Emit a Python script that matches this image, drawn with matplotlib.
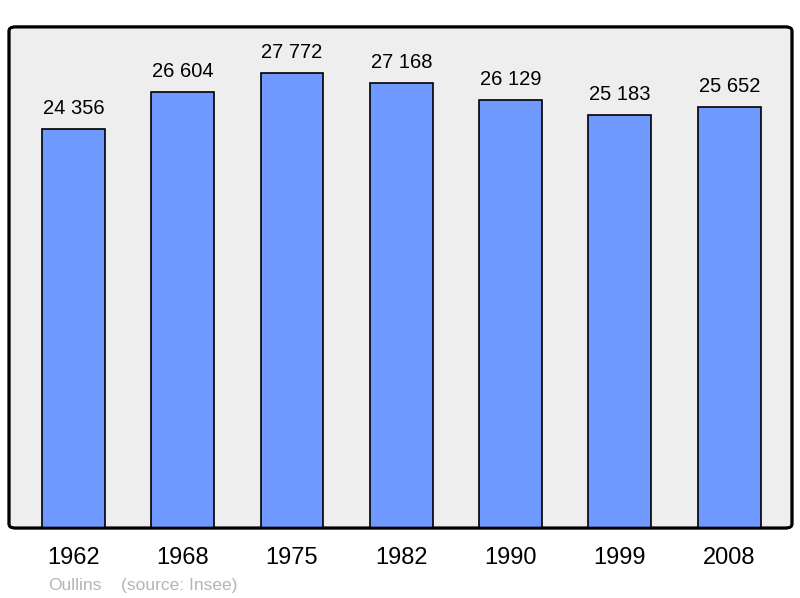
import matplotlib.pyplot as plt
from matplotlib.patches import FancyBboxPatch

plt.rcParams['font.family'] = ['Liberation Sans', 'DejaVu Sans']

# population of Oullins by census year
years = ['1962', '1968', '1975', '1982', '1990', '1999', '2008']
population = [24356, 26604, 27772, 27168, 26129, 25183, 25652]
labels = ['24 356', '26 604', '27 772', '27 168', '26 129', '25 183', '25 652']

fig = plt.figure(figsize=(8, 5.98), dpi=100)
ax = fig.add_axes([0.01125, 0.117, 0.97875, 0.838])
ax.set_facecolor('none')
for s in ax.spines.values():
    s.set_visible(False)

# rounded grey panel behind the bars
panel = FancyBboxPatch((0, 0), 1, 1, boxstyle='round,pad=0,rounding_size=0.008',
                       transform=ax.transAxes, facecolor='#eeeeee',
                       edgecolor='black', linewidth=2, zorder=0, clip_on=False)
ax.add_patch(panel)

x = list(range(len(years)))
ax.bar(x, population, width=0.576, color='#7099ff', edgecolor='black',
       linewidth=1.2, zorder=2)
ax.add_patch(FancyBboxPatch((0, 0), 1, 1, boxstyle='round,pad=0,rounding_size=0.008',
                            transform=ax.transAxes, facecolor='none',
                            edgecolor='black', linewidth=2, zorder=3, clip_on=False))

for xi, v, lab in zip(x, population, labels):
    ax.annotate(lab, (xi, v), xytext=(0, 15), textcoords='offset pixels',
                ha='center', va='baseline', fontsize=14.5, color='black')

ax.set_xlim(-0.589, 6.574)
ax.set_ylim(0, 30566)
ax.set_xticks(x)
ax.set_xticklabels(years, fontsize=17)
ax.tick_params(axis='x', length=0, pad=14)
ax.set_yticks([])

fig.text(48 / 800, 1 - 590 / 598, 'Oullins', fontsize=12.5, color='#b5b5b5',
         ha='left', va='baseline')
fig.text(121 / 800, 1 - 590 / 598, '(source: Insee)', fontsize=12.5, color='#b5b5b5',
         ha='left', va='baseline')

fig.savefig('out.png', dpi=100)
